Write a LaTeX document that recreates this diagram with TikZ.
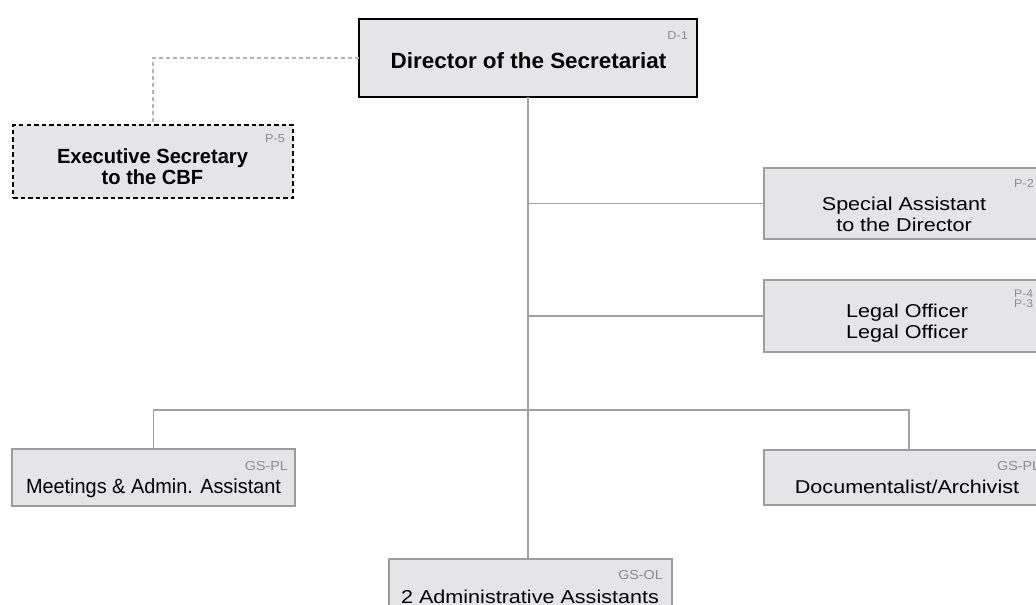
\documentclass[tikz,border=0pt]{standalone}
\usepackage{fontspec}
\setmainfont{Liberation Sans}
\newfontfamily\dirfont[FakeStretch=1.02]{Liberation Sans}
\newfontfamily\execfont[FakeStretch=0.98]{Liberation Sans}
\newfontfamily\widefont[FakeStretch=1.16]{Liberation Sans}
\newfontfamily\mtgfont[FakeStretch=0.97]{Liberation Sans}
\newfontfamily\gradefont[FakeStretch=1.1]{Liberation Sans}
\definecolor{boxfill}{HTML}{E5E5E7}
\definecolor{boxline}{HTML}{9C9C9C}
\definecolor{conn}{HTML}{A0A0A0}
\definecolor{dashc}{HTML}{B4B4B4}
\definecolor{gradec}{HTML}{8A8A8A}
\begin{document}
\begin{tikzpicture}[x=1pt,y=-1pt,
  box/.style={draw=boxline, line width=1.5pt, fill=boxfill, anchor=north west, inner sep=0pt, outer sep=0pt},
  dirbox/.style={box, draw=black, line width=2.2pt},
  execbox/.style={box, draw=black, line width=2.2pt, dash pattern=on 4.5pt off 3pt},
  conline/.style={draw=conn, line width=1.5pt},
  dashline/.style={draw=dashc, line width=1.5pt, dash pattern=on 4pt off 3pt},
  gradelbl/.style={text=gradec, inner sep=0pt, font={\gradefont\fontsize{11.5}{12}\selectfont}},
  dirtxt/.style={inner sep=0pt, anchor=base, font={\dirfont\bfseries\fontsize{22}{24}\selectfont}},
  exectxt/.style={inner sep=0pt, anchor=base, align=center, font={\execfont\bfseries\fontsize{20.5}{19}\selectfont}},
  widetxt/.style={inner sep=0pt, anchor=base, align=center, font={\widefont\fontsize{18.6}{20.5}\selectfont}},
  mtgtxt/.style={inner sep=0pt, anchor=base, font={\mtgfont\fontsize{20.5}{22}\selectfont}}
]
\path[use as bounding box] (0,0) rectangle (1036,605);
\clip (0,0) rectangle (1036,605);

% boxes
\node[dirbox, minimum width=338pt, minimum height=78pt] (dir) at (359,19) {};
\node[execbox, minimum width=280pt, minimum height=73pt] (exec) at (13,125) {};
\node[box, minimum width=290pt, minimum height=71pt] (spec) at (764,168) {};
\node[box, minimum width=290pt, minimum height=72pt] (leg) at (764,280) {};
\node[box, minimum width=283pt, minimum height=57pt] (mtg) at (12,449) {};
\node[box, minimum width=290pt, minimum height=55pt] (doc) at (764,450) {};
\node[box, minimum width=283pt, minimum height=60pt] (adm) at (389,559) {};

% connectors
\coordinate (bar) at (530,410);
\draw[conline] (dir.south) -- (dir.south |- adm.north);
\draw[conline] (spec.west) -- (spec.west -| dir.south);
\draw[conline] (leg.west) -- (leg.west -| dir.south);
\draw[conline] (mtg.north) |- (bar) -| (doc.north);
\draw[dashline] (dir.west) -| (exec.north);

% texts (multi-line nodes are anchored at the baseline of their last line)
\node[dirtxt] (dirt) at (528.5,68) {Director of the Secretariat};
\node[gradelbl, anchor=base east] (dirg) at (688,39) {D-1};

\node[exectxt] (exect) at (152.5,184) {Executive Secretary\\to the CBF};
\node[gradelbl, anchor=base east] (execg) at (285,142) {P-5};

\node[widetxt] (spect) at (904,231) {Special Assistant\\to the Director};
\node[gradelbl, anchor=base west] (specg) at (1014,187) {P-2};

\node[widetxt] (legt) at (907,338) {Legal Officer\\Legal Officer};
\node[gradelbl, anchor=base west, font={\gradefont\fontsize{11}{10}\selectfont}, align=left] (legg) at (1014,307) {P-4\\P-3};

\node[mtgtxt] (mtgt) at (153.5,493) {Meetings \& Admin. Assistant};
\node[gradelbl, anchor=base east, font={\gradefont\fontsize{13}{14}\selectfont}] (mtgg) at (288,470) {GS-PL};

\node[widetxt] (doct) at (907,493) {Documentalist/Archivist};
\node[gradelbl, anchor=base west, font={\gradefont\fontsize{13}{14}\selectfont}] (docg) at (997,470) {GS-PL};

\node[widetxt] (admt) at (530,603) {2 Administrative Assistants};
\node[gradelbl, anchor=base east, font={\gradefont\fontsize{13}{14}\selectfont}] (admg) at (663,579) {GS-OL};
\end{tikzpicture}
\end{document}
